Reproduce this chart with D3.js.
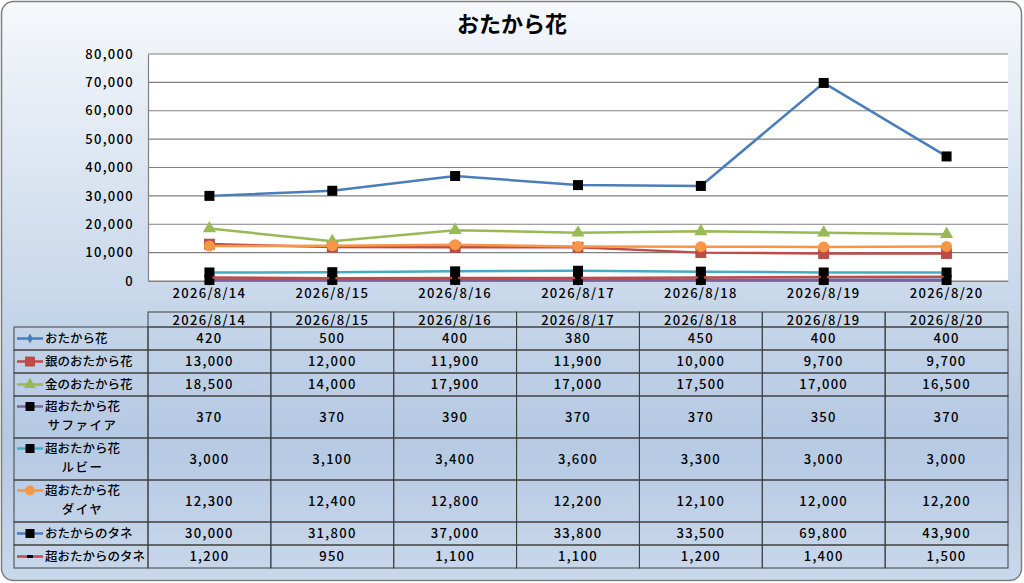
<!DOCTYPE html>
<html>
<head>
<meta charset="utf-8">
<script src="https://cdn.jsdelivr.net/npm/d3@7"></script>
<style>
  html, body { margin: 0; padding: 0; background: #ffffff; }
  #chart { width: 1024px; height: 583px; }
</style>
</head>
<body>
<div id="chart"></div>
<script>
// ---- data ----
const dates = ["2026/8/14", "2026/8/15", "2026/8/16", "2026/8/17", "2026/8/18", "2026/8/19", "2026/8/20"];

const otakarabana      = [420, 500, 400, 380, 450, 400, 400];
const ginOtakarabana   = [13000, 12000, 11900, 11900, 10000, 9700, 9700];
const kinOtakarabana   = [18500, 14000, 17900, 17000, 17500, 17000, 16500];
const chouSapphire     = [370, 370, 390, 370, 370, 350, 370];
const chouRuby         = [3000, 3100, 3400, 3600, 3300, 3000, 3000];
const chouDiamond      = [12300, 12400, 12800, 12200, 12100, 12000, 12200];
const otakaraTane      = [30000, 31800, 37000, 33800, 33500, 69800, 43900];
const chouOtakaraTane  = [1200, 950, 1100, 1100, 1200, 1400, 1500];

const seriesLabels = [
    ["おたから花"],
    ["銀のおたから花"],
    ["金のおたから花"],
    ["超おたから花", "サファイア"],
    ["超おたから花", "ルビー"],
    ["超おたから花", "ダイヤ"],
    ["おたからのタネ"],
    ["超おたからのタネ"]
];
const seriesValues = [otakarabana, ginOtakarabana, kinOtakarabana, chouSapphire,
    chouRuby, chouDiamond, otakaraTane, chouOtakaraTane];
const seriesColors = ["#4a7ebb", "#be4b48", "#98b954", "#7d60a0",
    "#46aac5", "#f79646", "#4a7ebb", "#be4b48"];
const seriesMarkers = ["diamond", "square", "triangle", "blacksq",
    "blacksq", "circle", "blacksq", "dash"];

const yTicks = [0, 10000, 20000, 30000, 40000, 50000, 60000, 70000, 80000];

// ---- layout ----
const W = 1024, H = 583;
const plot = { left: 148, right: 1008, top: 54, bottom: 281 };
const FONT = "'Noto Sans CJK JP', 'Noto Sans', sans-serif";
const NUM_SPACING = "1.3px";   // digits in the original are set wider

const svg = d3.select("#chart").append("svg")
    .attr("width", W).attr("height", H)
    .style("display", "block");

const defs = svg.append("defs");
const grad = defs.append("linearGradient")
    .attr("id", "bg-grad")
    .attr("x1", 0).attr("y1", 0).attr("x2", 0).attr("y2", 1);
grad.selectAll("stop")
    .data([["0%", "#f6f8fc"], ["45%", "#cddbec"], ["75%", "#b5c9e3"], ["100%", "#c9d8eb"]])
    .enter().append("stop")
    .attr("offset", d => d[0])
    .attr("stop-color", d => d[1]);

// chart area frame
svg.append("rect")
    .attr("x", 1.5).attr("y", 1.5)
    .attr("width", W - 4).attr("height", H - 4)
    .attr("rx", 12).attr("ry", 12)
    .attr("fill", "url(#bg-grad)")
    .attr("stroke", "#7f7f7f")
    .attr("stroke-width", 1.5);

// title
svg.append("text")
    .attr("x", W / 2).attr("y", 32)
    .attr("text-anchor", "middle")
    .attr("font-family", FONT)
    .attr("font-size", "22px")
    .attr("font-weight", "700")
    .attr("fill", "#000")
    .text("おたから花");

// scales
const x = d3.scaleBand().domain(dates).range([plot.left, plot.right]);
const y = d3.scaleLinear().domain([0, 80000]).range([plot.bottom, plot.top]);
const cx = d => x(d) + x.bandwidth() / 2;

// plot area
svg.append("rect")
    .attr("x", plot.left).attr("y", plot.top)
    .attr("width", plot.right - plot.left).attr("height", plot.bottom - plot.top)
    .attr("fill", "#ffffff");

// gridlines
svg.append("g")
    .selectAll("line")
    .data(yTicks)
    .enter().append("line")
    .attr("x1", plot.left).attr("x2", plot.right)
    .attr("y1", d => y(d)).attr("y2", d => y(d))
    .attr("stroke", "#808080")
    .attr("stroke-width", 1.2);

// y axis
const yAxis = svg.append("g")
    .attr("transform", `translate(${plot.left},0)`)
    .call(d3.axisLeft(y).tickValues(yTicks).tickFormat(d3.format(",")).tickSize(0).tickPadding(14));
yAxis.select(".domain").attr("stroke", "#808080").attr("stroke-width", 1.2);
yAxis.selectAll("text")
    .attr("font-family", FONT)
    .attr("font-size", "13px")
    .attr("font-weight", "500")
    .attr("letter-spacing", NUM_SPACING)
    .attr("fill", "#000");

// x axis
const xAxis = svg.append("g")
    .attr("transform", `translate(0,${plot.bottom})`)
    .call(d3.axisBottom(x).tickSize(0).tickPadding(8));
xAxis.select(".domain").attr("stroke", "#808080").attr("stroke-width", 1.2);
xAxis.selectAll("text")
    .attr("font-family", FONT)
    .attr("font-size", "13px")
    .attr("font-weight", "500")
    .attr("letter-spacing", NUM_SPACING)
    .attr("fill", "#000");

// marker drawing helper
function drawMarker(sel, type, color, size) {
    const s = size;
    if (type === "square") {
        sel.append("rect").attr("x", -s / 2).attr("y", -s / 2).attr("width", s).attr("height", s)
            .attr("fill", color).attr("stroke", "#b04340").attr("stroke-width", 0.8);
    } else if (type === "blacksq") {
        sel.append("rect").attr("x", -s / 2).attr("y", -s / 2).attr("width", s).attr("height", s)
            .attr("fill", "#000");
    } else if (type === "circle") {
        sel.append("circle").attr("r", s / 2 + 0.5).attr("fill", color);
    } else if (type === "triangle") {
        sel.append("path").attr("d", d3.symbol(d3.symbolTriangle, s * s * 0.75)()).attr("fill", color);
    } else if (type === "diamond") {
        sel.append("path").attr("d", d3.symbol(d3.symbolDiamond, s * s * 0.45)()).attr("fill", color);
    } else if (type === "dash") {
        sel.append("rect").attr("x", -3).attr("y", -1.5).attr("width", 6).attr("height", 3)
            .attr("fill", "#000");
    }
}

// series lines and markers
const line = d3.line()
    .x((d, i) => cx(dates[i]))
    .y(d => y(d));

const seriesG = svg.append("g");
seriesValues.forEach((vals, si) => {
    const g = seriesG.append("g");
    g.append("path")
        .datum(vals)
        .attr("d", line)
        .attr("fill", "none")
        .attr("stroke", seriesColors[si])
        .attr("stroke-width", 2.5)
        .attr("stroke-linejoin", "round");
    vals.forEach((v, i) => {
        const m = g.append("g").attr("transform", `translate(${cx(dates[i])},${y(v)})`);
        drawMarker(m, seriesMarkers[si], seriesColors[si], 10);
    });
});

// ---- data table ----
const table = { left: 14, headerTop: 312, headerH: 15, rowH1: 23, rowH2: 42 };
const rowHeights = seriesLabels.map(l => l.length > 1 ? table.rowH2 : table.rowH1);
const rowTops = [];
let acc = table.headerTop + table.headerH;
rowHeights.forEach(h => { rowTops.push(acc); acc += h; });

const tg = svg.append("g");
const gridColor = "#404040";

// header row (dates)
dates.forEach(d => {
    tg.append("rect")
        .attr("x", x(d)).attr("y", table.headerTop)
        .attr("width", x.bandwidth()).attr("height", table.headerH)
        .attr("fill", "none").attr("stroke", gridColor).attr("stroke-width", 1);
    tg.append("text")
        .attr("x", cx(d)).attr("y", table.headerTop + table.headerH / 2 + 1)
        .attr("dy", "0.35em")
        .attr("text-anchor", "middle")
        .attr("font-family", FONT).attr("font-size", "13px").attr("font-weight", "500")
        .attr("letter-spacing", NUM_SPACING)
        .attr("fill", "#000")
        .text(d);
});

// body rows
const fmt = d3.format(",");
seriesLabels.forEach((labels, si) => {
    const top = rowTops[si], h = rowHeights[si];
    // legend cell
    tg.append("rect")
        .attr("x", table.left).attr("y", top)
        .attr("width", plot.left - table.left).attr("height", h)
        .attr("fill", "none").attr("stroke", gridColor).attr("stroke-width", 1);
    const keyY = labels.length > 1 ? top + 10.5 : top + h / 2;
    tg.append("line")
        .attr("x1", 17).attr("x2", 43)
        .attr("y1", keyY).attr("y2", keyY)
        .attr("stroke", seriesColors[si]).attr("stroke-width", 2.5);
    const km = tg.append("g").attr("transform", `translate(30,${keyY})`);
    drawMarker(km, seriesMarkers[si], seriesColors[si], seriesMarkers[si] === "diamond" ? 8 : 9);

    const first = tg.append("text")
        .attr("x", 45).attr("y", keyY).attr("dy", "0.35em")
        .attr("font-family", FONT).attr("font-size", "12.5px").attr("font-weight", "500")
        .attr("fill", "#000")
        .text(labels[0]);
    if (labels.length > 1) {
        const w = first.node().getComputedTextLength();
        tg.append("text")
            .attr("x", 45 + w / 2).attr("y", keyY + 19).attr("dy", "0.35em")
            .attr("text-anchor", "middle")
            .attr("font-family", FONT).attr("font-size", "12.5px").attr("font-weight", "500")
            .attr("letter-spacing", "1.5px")
            .attr("fill", "#000")
            .text(labels[1]);
    }

    // value cells
    seriesValues[si].forEach((v, i) => {
        const d = dates[i];
        tg.append("rect")
            .attr("x", x(d)).attr("y", top)
            .attr("width", x.bandwidth()).attr("height", h)
            .attr("fill", "none").attr("stroke", gridColor).attr("stroke-width", 1);
        tg.append("text")
            .attr("x", cx(d)).attr("y", top + h / 2).attr("dy", "0.35em")
            .attr("text-anchor", "middle")
            .attr("font-family", FONT).attr("font-size", "13px").attr("font-weight", "500")
            .attr("letter-spacing", NUM_SPACING)
            .attr("fill", "#000")
            .text(fmt(v));
    });
});
</script>
</body>
</html>
